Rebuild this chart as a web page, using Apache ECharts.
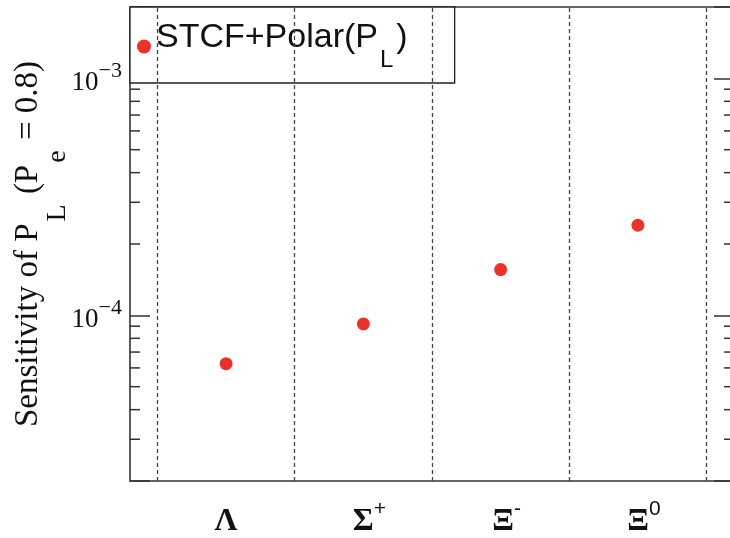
<!DOCTYPE html>
<html>
<head>
<meta charset="utf-8">
<script src="https://cdn.jsdelivr.net/npm/echarts@6/dist/echarts.min.js"></script>
<style>
  html, body { margin: 0; padding: 0; background: #ffffff; }
  #chart { width: 730px; height: 538px; }
</style>
</head>
<body>
<div id="chart"></div>
<script>
// Baryon species on the x axis: base symbol and charge superscript
const baryons = ['Λ', 'Σ', 'Ξ', 'Ξ'];
const charges = ['', '+', '-', '0'];
// Sensitivity of the longitudinal polarization P_L for each baryon
const sensitivity = [6.25e-5, 9.2e-5, 1.56e-4, 2.40e-4];
// Log-axis range and the unlabelled minor tick values
const yRange = [2e-5, 2e-3];
const minorTicks = [3e-5, 4e-5, 5e-5, 6e-5, 7e-5, 8e-5, 9e-5,
                    2e-4, 3e-4, 4e-4, 5e-4, 6e-4, 7e-4, 8e-4, 9e-4];
// Bin axis: one unit per baryon, with a small margin on both ends
const xRange = [-0.2, baryons.length + 0.2];

const seriesName = 'STCF+Polar(P_L)';
const axisColor = '#333333';
const serif = '"Liberation Serif", "DejaVu Serif", serif';
const sans = '"Liberation Sans", Arial, sans-serif';

const binCenters = baryons.map((_, i) => i + 0.5);
const binEdges = baryons.map((_, i) => i).concat([baryons.length]);
const points = sensitivity.map((v, i) => [binCenters[i], v]);

function isPowerOfTen(v) {
  const e = Math.round(Math.log10(v));
  return Math.abs(v - Math.pow(10, e)) / v < 1e-6;
}

const chart = echarts.init(document.getElementById('chart'), null, { renderer: 'canvas' });

chart.setOption({
  animation: false,
  backgroundColor: '#ffffff',
  grid: {
    left: 130, top: 7, right: -4, bottom: 57,
    show: true, borderColor: axisColor, borderWidth: 1.6,
    backgroundColor: 'transparent',
    containLabel: false, outerBoundsMode: 'none'
  },
  legend: {
    left: 130, top: 7,
    data: [seriesName],
    icon: 'circle', itemWidth: 14, itemHeight: 14,
    backgroundColor: '#ffffff', borderColor: '#222222', borderWidth: 1.3, borderRadius: 0,
    padding: [14, 47, 11, 7],
    selectedMode: false,
    formatter: () => '{t|STCF+Polar(P}{s|L}{t|)}',
    textStyle: {
      rich: {
        t: { fontFamily: sans, fontSize: 34, color: '#111111', verticalAlign: 'top' },
        s: { fontFamily: sans, fontSize: 24, color: '#111111', verticalAlign: 'top', padding: [27, 3, 0, 2] }
      }
    }
  },
  xAxis: {
    type: 'value', min: xRange[0], max: xRange[1],
    axisLine: { show: false, onZero: false },
    axisTick: { show: false },
    splitLine: { show: false },
    axisLabel: {
      customValues: binCenters,
      margin: 18,
      formatter: (v) => {
        const i = Math.floor(v);
        if (!charges[i]) return '{g|' + baryons[i] + '}';
        return '{p| }{g|' + baryons[i] + '}{s|' + charges[i] + '}';
      },
      rich: {
        g: { fontFamily: serif, fontSize: 32, fontWeight: 'bold', color: '#111111', verticalAlign: 'top', padding: [7, 0, 0, 0] },
        s: { fontFamily: sans, fontSize: 21, color: '#111111', verticalAlign: 'top' },
        p: { width: 12, fontSize: 21 }
      }
    }
  },
  yAxis: [{
    type: 'log', min: yRange[0], max: yRange[1], position: 'left',
    axisLine: { show: false, onZero: false },
    axisTick: { show: true, inside: true, length: 20, lineStyle: { color: axisColor, width: 1.5 } },
    splitLine: { show: false },
    axisLabel: {
      margin: 8,
      formatter: (v) => isPowerOfTen(v) ? '{b|10}{s|−' + (-Math.round(Math.log10(v))) + '}' : '',
      rich: {
        b: { fontFamily: serif, fontSize: 27, color: '#111111', verticalAlign: 'top', padding: [9, 0, 0, 0] },
        s: { fontFamily: serif, fontSize: 22, color: '#111111', verticalAlign: 'top' }
      }
    },
    name: '{t|Sensitivity of P}{s|L}{t| (P}{s|e}{t| = 0.8)}',
    nameLocation: 'middle', nameRotate: 90, nameGap: 58, nameMoveOverlap: false,
    nameTextStyle: {
      rich: {
        t: { fontFamily: serif, fontSize: 33, color: '#111111', verticalAlign: 'top' },
        s: { fontFamily: serif, fontSize: 28, color: '#111111', verticalAlign: 'top', padding: [32, 2, 0, 2] }
      }
    }
  }, {
    type: 'log', min: yRange[0], max: yRange[1], position: 'right',
    axisLine: { show: false, onZero: false },
    axisTick: { show: true, inside: true, length: 20, lineStyle: { color: axisColor, width: 1.5 } },
    axisLabel: { show: false },
    splitLine: { show: false }
  }],
  series: [{
    name: seriesName,
    type: 'scatter',
    data: points,
    symbol: 'circle', symbolSize: 13,
    itemStyle: { color: '#e8332a', opacity: 1 },
    z: 4,
    markLine: {
      silent: true, symbol: 'none',
      label: { show: false },
      lineStyle: { color: '#444444', width: 1.3, type: [4, 3] },
      data: binEdges.map((e) => ({ xAxis: e }))
    }
  }, {
    // Minor ticks of the log axis on both vertical borders
    name: 'minor ticks',
    type: 'custom',
    silent: true,
    data: minorTicks.map((v) => [xRange[0], v]),
    renderItem: (params, api) => {
      const y = api.coord([xRange[0], api.value(1)])[1];
      const cs = params.coordSys;
      const style = { stroke: axisColor, lineWidth: 1.5 };
      return {
        type: 'group',
        children: [
          { type: 'line', shape: { x1: cs.x, y1: y, x2: cs.x + 10, y2: y }, style },
          { type: 'line', shape: { x1: cs.x + cs.width, y1: y, x2: cs.x + cs.width - 10, y2: y }, style }
        ]
      };
    }
  }]
});
</script>
</body>
</html>
